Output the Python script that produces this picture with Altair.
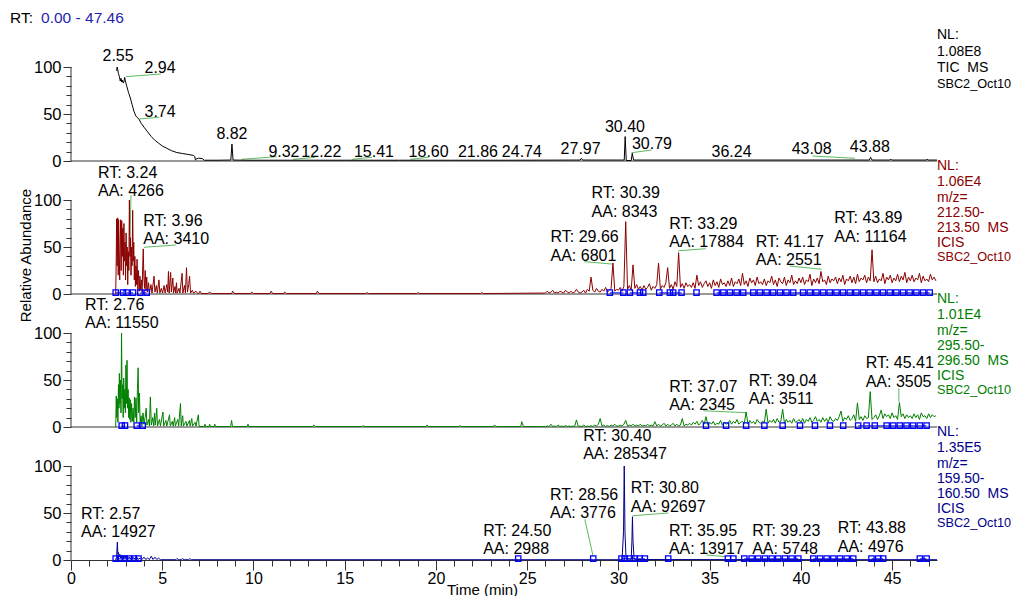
import altair as alt
import pandas as pd

X_MAX = 47.46
PANEL = 141.5          # y units per stacked panel (100 = full scale)
Y_TOP = 4 * PANEL
FONT = "Liberation Sans"

# ---------------- traces (time, relative abundance) ----------------
tic_points = [
    (2.50, 96), (2.53, 100), (2.56, 97), (2.60, 93), (2.65, 90), (2.70, 85), (2.74, 88), (2.78, 84),
    (2.82, 86), (2.86, 83), (2.90, 84), (2.94, 89), (2.98, 85), (3.05, 80), (3.15, 73), (3.25, 67),
    (3.35, 60), (3.45, 53), (3.55, 48), (3.65, 46), (3.74, 44), (3.85, 40), (4.00, 36), (4.20, 31),
    (4.40, 26), (4.60, 22), (4.80, 19), (5.00, 16), (5.25, 13.5), (5.50, 11), (5.80, 9), (6.10, 8),
    (6.40, 7), (6.70, 6), (6.78, 5), (6.82, 1), (6.90, 2.5), (7.00, 3), (7.20, 2.5), (7.30, 0.8),
    (8.00, 0.8), (8.76, 1), (8.82, 18), (8.88, 1), (9.50, 0.8), (12.00, 0.8), (15.00, 0.8),
    (18.00, 0.8), (21.00, 0.8), (24.00, 0.8), (27.90, 1), (27.97, 2.8), (28.04, 1), (30.32, 1),
    (30.37, 26), (30.43, 0.5), (30.70, 0.5), (30.76, 8.2), (30.83, 1), (36.00, 1), (40.00, 1),
    (43.75, 1), (43.82, 3.9), (43.90, 1), (44.88, 1), (44.93, 2), (44.98, 1), (46.88, 1),
    (46.92, 2), (46.96, 1), (47.46, 1),
]

red_points = [
    (2.45, 0), (2.48, 40), (2.50, 80), (2.53, 30), (2.56, 81), (2.59, 20), (2.61, 79), (2.64, 45),
    (2.67, 15), (2.70, 60), (2.72, 79), (2.75, 25), (2.78, 78), (2.81, 40), (2.84, 70), (2.87, 20),
    (2.90, 75), (2.93, 35), (2.96, 55), (2.99, 15), (3.02, 65), (3.05, 30), (3.08, 50), (3.11, 10),
    (3.14, 45), (3.17, 25), (3.20, 100), (3.23, 40), (3.26, 60), (3.29, 20), (3.32, 50), (3.35, 30),
    (3.38, 89), (3.41, 35), (3.44, 55), (3.47, 15), (3.50, 40), (3.53, 8), (3.56, 30), (3.59, 10),
    (3.62, 37), (3.66, 5), (3.70, 25), (3.74, 3), (3.78, 19), (3.82, 4), (3.86, 15), (3.90, 2),
    (3.93, 30), (3.96, 48), (3.99, 20), (4.03, 6), (4.07, 25), (4.11, 3), (4.15, 18), (4.19, 2),
    (4.25, 12), (4.30, 1), (4.38, 10), (4.44, 1), (4.55, 19), (4.60, 2), (4.68, 9), (4.73, 1),
    (4.82, 15), (4.87, 1), (4.95, 6), (5.02, 1), (5.10, 9), (5.16, 1), (5.25, 10), (5.30, 2),
    (5.34, 24), (5.38, 1), (5.46, 23), (5.50, 2), (5.58, 17), (5.62, 1), (5.70, 8), (5.74, 1),
    (5.78, 12), (5.82, 1), (5.92, 6), (5.97, 1), (6.09, 22), (6.13, 1), (6.22, 9), (6.27, 1),
    (6.33, 28), (6.38, 2), (6.45, 10), (6.50, 19), (6.55, 1), (6.65, 4), (6.72, 1), (6.85, 3),
    (6.95, 0.5), (7.00, 0.5), (7.07, 3), (7.15, 0.5), (7.50, 0.5), (7.60, 2), (7.70, 0.5),
    (8.80, 0.5), (8.86, 3), (8.95, 0.5), (9.85, 0.5), (9.90, 2), (10.00, 0.5), (10.90, 0.5),
    (10.97, 3), (11.05, 0.5), (11.65, 0.5), (11.70, 2), (11.80, 0.5), (13.45, 0.5), (13.50, 3),
    (13.60, 0.5), (16.15, 0.5), (16.20, 1.5), (16.30, 0.5), (18.95, 0.5), (19.00, 1.5),
    (19.10, 0.5), (22.45, 0.5), (22.50, 1.5), (22.60, 0.5), (25.95, 1),
]
# noisy part, sampled every 0.1 min from 26.0 min
red_noise = [
    1, 3, 1, 2, 4, 1, 2, 1, 3, 2, 1, 4, 2, 1, 3, 1, 2, 5, 2, 1,
    2, 4, 1, 5, 3, 18, 4, 2, 6, 3, 2, 5, 3, 7, 2, 4, 6, 33, 3, 5,
    4, 7, 3, 8, 77, 5, 9, 4, 31, 6, 10, 5, 8, 4, 9, 5, 7, 11, 4, 8,
    6, 10, 33, 5, 9, 7, 12, 28, 6, 10, 5, 13, 8, 44, 7, 11, 6, 12, 8, 10,
    7, 12, 6, 20, 9, 13, 7, 11, 14, 8, 12, 6, 15, 9, 13, 7, 16, 10, 12, 8,
    14, 9, 17, 8, 13, 11, 16, 9, 22, 10, 14, 8, 17, 12, 15, 9, 18, 11, 13, 10,
    16, 9, 14, 12, 19, 10, 15, 8, 17, 13, 11, 18, 9, 15, 12, 20, 10, 14, 11, 17,
    12, 18, 10, 15, 13, 21, 9, 16, 12, 17, 11, 24, 13, 15, 10, 19, 12, 16, 14, 18,
    11, 17, 13, 20, 10, 16, 14, 19, 12, 18, 11, 21, 13, 17, 15, 20, 12, 18, 14, 47,
    13, 19, 12, 16, 14, 22, 11, 18, 15, 20, 12, 17, 14, 21, 13, 19, 15, 23, 12, 18,
    14, 20, 13, 17, 15, 22, 12, 19, 14, 16, 13, 21, 15, 18, 14,
]

green_points = [
    (2.45, 0), (2.48, 33), (2.51, 10), (2.54, 30), (2.57, 5), (2.60, 45), (2.63, 20), (2.65, 57),
    (2.68, 25), (2.71, 50), (2.74, 15), (2.77, 100), (2.80, 30), (2.83, 45), (2.86, 10), (2.89, 52),
    (2.92, 20), (2.95, 40), (2.98, 15), (3.01, 66), (3.04, 25), (3.07, 71), (3.10, 20), (3.13, 40),
    (3.16, 10), (3.19, 31), (3.22, 8), (3.25, 29), (3.28, 5), (3.32, 25), (3.36, 6), (3.40, 20),
    (3.44, 5), (3.48, 32), (3.52, 10), (3.56, 31), (3.60, 5), (3.64, 40), (3.68, 63), (3.71, 15),
    (3.75, 36), (3.79, 5), (3.84, 12), (3.88, 2), (3.95, 15), (4.00, 3), (4.06, 10), (4.12, 20),
    (4.16, 2), (4.25, 8), (4.30, 1), (4.35, 32), (4.40, 2), (4.48, 10), (4.53, 1), (4.58, 15),
    (4.62, 2), (4.70, 20), (4.74, 1), (4.85, 8), (4.90, 1), (5.04, 16), (5.08, 1), (5.20, 7),
    (5.25, 1), (5.40, 13), (5.44, 1), (5.55, 6), (5.60, 1), (5.68, 10), (5.72, 1), (5.85, 8),
    (5.90, 1), (6.00, 25), (6.04, 1), (6.12, 12), (6.16, 1), (6.30, 6), (6.35, 1), (6.49, 7),
    (6.53, 1), (6.62, 9), (6.66, 1), (6.80, 5), (6.85, 1), (6.98, 13), (7.02, 0.5), (7.30, 0.5),
    (7.34, 3), (7.38, 0.5), (7.56, 0.5), (7.60, 3), (7.64, 0.5), (7.84, 0.5), (7.88, 3),
    (7.92, 0.5), (8.75, 0.5), (8.80, 7), (8.85, 0.5), (9.65, 0.5), (9.70, 3), (9.75, 0.5),
    (13.25, 0.5), (13.30, 2), (13.40, 0.5), (15.95, 0.5), (16.00, 1.5), (16.10, 0.5),
    (19.45, 0.5), (19.50, 2), (19.60, 0.5), (21.25, 0.5), (21.30, 1.5), (21.40, 0.5),
    (23.15, 0.5), (23.20, 2), (23.30, 0.5), (24.65, 0.5), (24.70, 5.7), (24.80, 0.5), (25.90, 0.5),
]
green_noise = [
    0.5, 1, 0.5, 3, 0.5, 1, 0.5, 2, 0.5, 1, 0.5, 1.5, 0.5, 1, 0.5, 1, 0.5, 7.5, 0.5, 1,
    0.5, 2, 0.5, 1, 0.5, 1.5, 0.5, 2, 1, 3, 9, 1, 2, 0.5, 1.5, 0.5, 2, 1, 3, 1,
    1, 2, 1, 3, 7, 1, 2, 1, 3, 1, 2, 1, 3, 1, 2, 1, 3, 1, 2, 1,
    5.7, 1, 3, 1, 2, 4, 1, 3, 1, 2, 4, 1, 3, 1, 2, 9, 1, 3, 2, 4,
    2, 5, 3, 6, 2, 4, 7, 3, 11, 2, 5, 3, 6, 2, 4, 3, 7, 2, 5, 3,
    4, 7, 3, 6, 4, 8, 3, 5, 6, 4, 16, 3, 7, 4, 6, 3, 8, 5, 4, 6,
    5, 19, 4, 7, 5, 8, 4, 9, 5, 6, 19, 4, 8, 5, 7, 4, 9, 5, 6, 8,
    5, 9, 4, 8, 6, 10, 5, 7, 11, 6, 8, 5, 10, 6, 9, 5, 11, 7, 6, 9,
    7, 11, 17, 6, 10, 8, 12, 7, 9, 13, 6, 25.7, 8, 11, 7, 12, 9, 10, 37.6, 8,
    10, 13, 8, 12, 18, 9, 14, 11, 13, 9, 15, 10, 12, 8, 26, 11, 14, 9, 13, 10,
    12, 9, 14, 10, 13, 8, 15, 11, 12, 9, 14, 10, 13, 11, 12,
]
NOISE_START = 26.0
NOISE_STEP = 0.1

navy_points = [
    (2.45, 0), (2.50, 3), (2.54, 19), (2.57, 6), (2.60, 8), (2.64, 3), (2.68, 6), (2.72, 2),
    (2.76, 5), (2.80, 2), (2.85, 4), (2.90, 1.5), (2.95, 5), (3.00, 2), (3.05, 4), (3.10, 1.5),
    (3.20, 3), (3.30, 1), (3.40, 3), (3.50, 1), (3.60, 2.5), (3.70, 1), (3.80, 2), (3.90, 0.5),
    (4.00, 3), (4.10, 0.5), (4.20, 2), (4.30, 0.5), (4.40, 4), (4.50, 0.5), (4.60, 3), (4.70, 0.5),
    (4.80, 2), (4.90, 0.3), (5.75, 0.3), (5.80, 1.5), (5.90, 0.3), (6.05, 0.3), (6.10, 1.5),
    (6.20, 0.3), (6.45, 0.3), (6.50, 1.5), (6.60, 0.3), (24.50, 0.3), (28.50, 0.3), (28.56, 0.5),
    (28.62, 0.3), (30.20, 0.3), (30.28, 30), (30.32, 100), (30.36, 30), (30.42, 1), (30.70, 1),
    (30.74, 20), (30.77, 46), (30.80, 20), (30.86, 1), (31.00, 0.5), (47.46, 0.3),
]

# integration-boundary markers (blue squares) and baselines
red_squares = [2.45, 2.85, 3.05, 3.40, 3.80, 4.15, 29.53, 30.27, 30.63, 31.18, 31.36, 32.24, 32.82,
               33.0, 33.46, 34.28, 35.38, 35.75, 36.11, 36.48, 36.84, 37.39, 37.75, 38.12, 38.48,
               38.85, 39.21, 39.58, 40.12, 40.49, 40.85, 41.22, 41.58, 41.95, 42.31, 42.68, 43.04,
               43.41, 43.77, 44.14, 44.5, 44.87, 45.23, 45.6, 45.96, 46.33, 46.7, 47.06]
green_squares = [2.78, 2.96, 3.6, 3.93, 34.8, 35.9, 37.0, 38.0, 39.0, 39.95, 40.77, 41.59, 42.32,
                 43.14, 43.6, 44.05, 44.7, 45.06, 45.42, 45.79, 46.15, 46.52, 46.89]
navy_squares = [2.45, 2.7, 2.95, 3.2, 3.45, 3.7, 24.51, 28.62, 30.17, 30.35, 30.62, 30.9, 31.17,
                31.45, 32.73, 36.0, 36.3, 36.9, 37.3, 37.66, 38.03, 38.4, 38.76, 39.13, 39.49,
                39.86, 40.68, 41.05, 41.41, 41.78, 42.14, 42.51, 42.87, 43.87, 44.24, 44.51,
                46.52, 46.89]
red_base = [(2.45, 2.85), (3.05, 3.40), (3.80, 4.15), (29.53, 30.27), (30.63, 31.36),
            (32.24, 33.46), (35.38, 47.06)]
green_base = [(2.78, 2.96), (3.6, 3.93), (43.14, 46.89)]
navy_base = [(2.45, 3.7), (30.17, 31.45), (36.9, 39.86), (40.68, 42.87), (43.87, 44.51),
             (46.52, 46.89)]

# ---------------- annotations ----------------
tic_labels = [("2.55", 2.58, 111.7), ("2.94", 4.88, 98.9), ("3.74", 4.88, 52.1),
              ("8.82", 8.82, 28.7), ("9.32", 11.67, 9.6), ("12.22", 13.72, 9.6),
              ("15.41", 16.6, 9.6), ("18.60", 19.6, 9.6), ("21.86", 22.3, 9.6),
              ("24.74", 24.71, 9.9), ("27.97", 27.93, 12.4), ("30.40", 30.36, 35.8),
              ("30.79", 31.84, 18.0), ("36.24", 36.2, 9.2), ("43.08", 40.59, 12.4),
              ("43.88", 43.78, 14.6)]
# (panel, RT, AA, label left time, first-line level)
peak_labels = [
    (1, "3.24", "4266", 1.48, 128.7), (1, "3.96", "3410", 3.96, 77.7),
    (1, "29.66", "6801", 26.28, 60.3), (1, "30.39", "8343", 28.53, 107.1),
    (1, "33.29", "17884", 32.78, 74.5), (1, "41.17", "2551", 37.53, 55.6),
    (1, "43.89", "11164", 41.83, 80.5),
    (2, "2.76", "11550", 0.77, 129.8), (2, "37.07", "2345", 32.78, 42.9),
    (2, "39.04", "3511", 37.15, 49.3), (2, "45.41", "3505", 43.55, 67.8),
    (3, "2.57", "14927", 0.55, 48.9), (3, "24.50", "2988", 22.59, 30.9),
    (3, "28.56", "3776", 26.25, 69.1), (3, "30.40", "285347", 28.07, 131.9),
    (3, "30.80", "92697", 30.68, 76.3), (3, "35.95", "13917", 32.77, 30.9),
    (3, "39.23", "5748", 37.33, 30.9), (3, "43.88", "4976", 42.02, 33.7),
]
# green leader lines: (panel, t1, v1, t2, v2)
leaders = [
    (0, 3.01, 89.7, 4.93, 92.6), (0, 3.74, 44.7, 4.84, 46.5), (0, 9.35, 1.8, 11.27, 4.6),
    (0, 12.18, 1.8, 13.37, 3.9), (0, 15.41, 1.8, 16.5, 4.0), (0, 18.6, 1.8, 19.6, 4.0),
    (0, 30.72, 8.8, 31.82, 11.7), (0, 40.64, 5.3, 42.96, 2.9),
    (1, 3.29, 105.3, 3.23, 61), (1, 4.0, 49.7, 5.74, 52.1), (1, 28.13, 34.4, 29.63, 31.9),
    (1, 33.28, 46, 34.78, 48.2), (1, 39.4, 29.8, 41.13, 26.3),
    (2, 34.65, 17.3, 37.02, 15.2), (2, 45.37, 41.2, 45.37, 26.9),
    (3, 28.16, 43.3, 28.62, 3.5), (3, 30.78, 47.1, 32.73, 50), (3, 34.83, 5.3, 35.93, 3.5),
]
side_text = [
    ["NL:", "1.08E8", "TIC\u00a0\u00a0MS", "SBC2_Oct10"],
    ["NL:", "1.06E4", "m/z=", "212.50-", "213.50\u00a0\u00a0MS", "ICIS", "SBC2_Oct10"],
    ["NL:", "1.01E4", "m/z=", "295.50-", "296.50\u00a0\u00a0MS", "ICIS", "SBC2_Oct10"],
    ["NL:", "1.35E5", "m/z=", "159.50-", "160.50\u00a0\u00a0MS", "ICIS", "SBC2_Oct10"],
]
side_levels = [[134, 116.3, 98.6, 81.9], [136.5, 119.5, 101.8, 85.9, 69.9, 54.6, 39.0]]

series_names = ["TIC", "m213", "m296", "m160"]
series_colors = ["#000000", "#8B0000", "#008000", "#00008B"]
SQUARE_BLUE = "#0000FF"
LEADER_GREEN = "#5DBB5D"


def gy(panel, v):
    return (3 - panel) * PANEL + v


# ---------------- tables ----------------
noise_t = [round(NOISE_START + i * NOISE_STEP, 2) for i in range(len(red_noise))]
trace_rows = []
for p, pts in [(0, tic_points), (1, red_points + list(zip(noise_t, red_noise))),
               (2, green_points + list(zip(noise_t, green_noise))), (3, navy_points)]:
    for t, v in pts:
        trace_rows.append({"t": t, "y": gy(p, v), "s": series_names[p]})
traces = pd.DataFrame(trace_rows)

sq_rows = []
for p, lst in [(1, red_squares), (2, green_squares), (3, navy_squares)]:
    for t in lst:
        sq_rows.append({"t": t, "y": gy(p, 1.5)})
squares = pd.DataFrame(sq_rows)

rule_rows = []
for p in range(3):  # panel baselines above the x axis
    rule_rows.append({"t": 0, "t2": X_MAX, "y": gy(p, 0), "y2": gy(p, 0), "c": "#333333"})
for p in range(4):  # y-axis line segments 0..100
    rule_rows.append({"t": 0, "t2": 0, "y": gy(p, 0), "y2": gy(p, 100), "c": "#333333"})
for p, lst in [(1, red_base), (2, green_base), (3, navy_base)]:
    for a, b in lst:
        rule_rows.append({"t": a, "t2": b, "y": gy(p, 1.2), "y2": gy(p, 1.2), "c": SQUARE_BLUE})
for p, t1, v1, t2, v2 in leaders:
    rule_rows.append({"t": t1, "t2": t2, "y": gy(p, v1), "y2": gy(p, v2), "c": LEADER_GREEN})
rules = pd.DataFrame(rule_rows)

left_rows = []
LINE_GAP = 19.5
for p, rt, aa, tl, v in peak_labels:
    left_rows.append({"t": tl, "y": gy(p, v), "label": "RT: " + rt, "c": "#000000", "fs": 16})
    left_rows.append({"t": tl, "y": gy(p, v - LINE_GAP), "label": "AA: " + aa, "c": "#000000", "fs": 16})
for p in range(4):
    levels = side_levels[0] if p == 0 else side_levels[1]
    for txt, lv in zip(side_text[p], levels):
        fs = 12.7 if txt.startswith("SBC2") else 14
        left_rows.append({"t": X_MAX, "y": gy(p, lv), "label": txt, "c": series_colors[p], "fs": fs})
HEADER_Y = Y_TOP + 10.6
left_rows.append({"t": -3.34, "y": HEADER_Y, "label": "RT:", "c": "#000000", "fs": 15.5})
left_rows.append({"t": -1.64, "y": HEADER_Y, "label": "0.00 - 47.46", "c": "#1F1FB4", "fs": 15.5})
left_text = pd.DataFrame(left_rows)

center_text = pd.DataFrame([{"t": t, "y": gy(0, v), "label": s} for s, t, v in tic_labels])

# ---------------- encodings ----------------
x_enc = alt.X(
    "t:Q",
    scale=alt.Scale(domain=[0, X_MAX], nice=False, zero=False),
    axis=alt.Axis(
        values=list(range(48)),
        labelExpr="datum.value % 5 == 0 ? datum.label : ''",
        tickSize={"condition": {"test": "datum.value % 5 == 0", "value": 10}, "value": 6},
        labelFont=FONT, labelFontSize=16, labelColor="#000000", labelPadding=0,
        labelOverlap=False, labelFlush=False, grid=False,
        domainColor="#333333", tickColor="#333333",
        title="Time (min)", titleFont=FONT, titleFontSize=15, titleFontWeight="normal",
        titleColor="#000000", titleX=411, titleY=34, titleBaseline="alphabetic",
    ),
)
y_vals = [k * PANEL + m * 10 for k in range(4) for m in range(11)]
y_enc = alt.Y(
    "y:Q",
    scale=alt.Scale(domain=[0, Y_TOP], nice=False, zero=False),
    axis=alt.Axis(
        values=y_vals,
        labelExpr="(datum.value % 141.5) % 50 == 0 ? '' + (datum.value % 141.5) : ''",
        tickSize={"condition": {"test": "(datum.value % 141.5) % 50 == 0", "value": 8}, "value": 5},
        domain=False, grid=False, labelFont=FONT, labelFontSize=16.5, labelColor="#000000",
        labelPadding=2, labelOverlap=False, tickColor="#333333",
        title="Relative Abundance", titleFont=FONT, titleFontSize=15, titleFontWeight="normal",
        titleColor="#000000", titleAngle=270, titleX=-46, titleY=227, titleBaseline="middle",
    ),
)

rule_layer = alt.Chart(rules).mark_rule(strokeWidth=1).encode(
    x=x_enc, x2="t2:Q", y=y_enc, y2="y2:Q", color=alt.Color("c:N", scale=None)
)
line_layer = alt.Chart(traces).mark_line(strokeWidth=1).encode(
    x=x_enc, y=y_enc,
    color=alt.Color("s:N", scale=alt.Scale(domain=series_names, range=series_colors), legend=None),
)
square_layer = alt.Chart(squares).mark_point(
    shape="square", filled=False, size=28, color=SQUARE_BLUE, strokeWidth=1.3, opacity=1
).encode(x=x_enc, y=y_enc)
left_layer = alt.Chart(left_text).mark_text(align="left", baseline="middle", font=FONT).encode(
    x=x_enc, y=y_enc, text="label:N", color=alt.Color("c:N", scale=None), size=alt.Size("fs:Q", scale=None)
)
center_layer = alt.Chart(center_text).mark_text(
    align="center", baseline="middle", font=FONT, fontSize=16, color="#000000"
).encode(x=x_enc, y=y_enc, text="label:N")

chart = alt.layer(rule_layer, line_layer, square_layer, left_layer, center_layer).properties(
    width=866, height=532,
    autosize=alt.AutoSizeParams(type="none"),
    padding={"left": 63, "top": 20, "right": 74, "bottom": 36},
).configure_view(stroke=None)

chart.save("out.html", embed_options={"renderer": "svg", "actions": False})
